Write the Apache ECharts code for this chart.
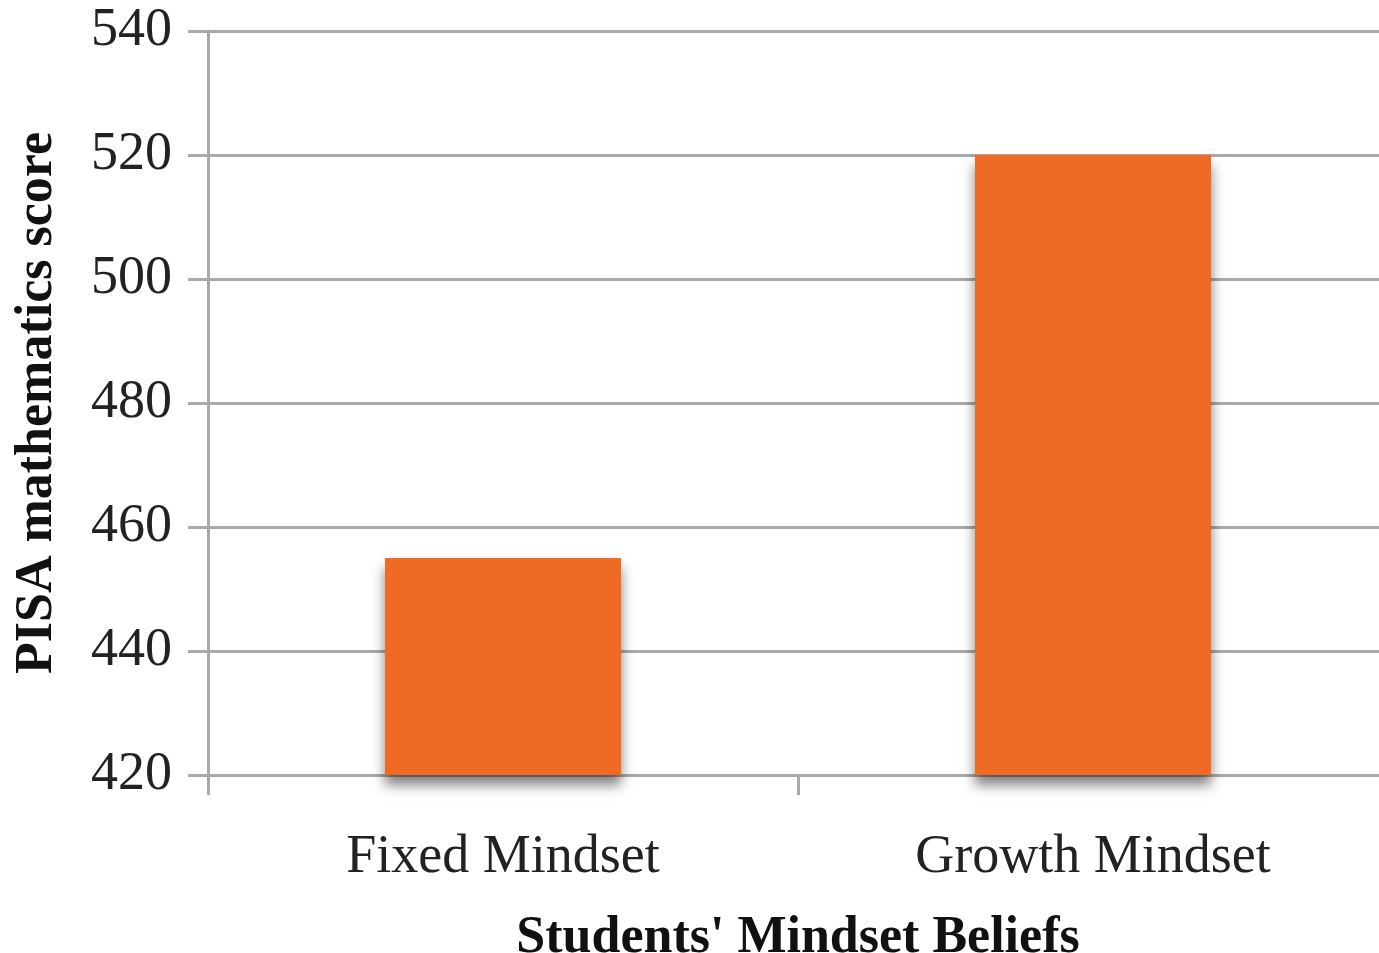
<!DOCTYPE html>
<html>
<head>
<meta charset="utf-8">
<script src="https://cdn.jsdelivr.net/npm/echarts@6/dist/echarts.min.js"></script>
<style>
html,body{margin:0;padding:0;background:#fff;}
#chart{width:1379px;height:953px;}
</style>
</head>
<body>
<div id="chart"></div>
<script>
const categories = ["Fixed Mindset", "Growth Mindset"];
const scores = [455, 520];
const yTicks = [420, 440, 460, 480, 500, 520, 540];

const chart = echarts.init(document.getElementById('chart'));
const font = '"Liberation Serif", "DejaVu Serif", serif';
const lineColor = '#a9a9a9';
chart.setOption({
  animation: false,
  backgroundColor: '#ffffff',
  grid: { left: 208, top: 31, bottom: 178, right: -9, containLabel: false, outerBoundsMode: 'none' },
  xAxis: {
    type: 'category',
    data: categories,
    name: "Students' Mindset Beliefs",
    nameLocation: 'middle',
    nameGap: 138,
    nameTextStyle: { fontFamily: font, fontWeight: 'bold', fontSize: 52, color: '#111' },
    axisLine: { show: true, lineStyle: { color: lineColor, width: 3 } },
    axisTick: { show: true, length: 20, lineStyle: { color: lineColor, width: 3 } },
    axisLabel: { fontFamily: font, fontSize: 54, color: '#222', margin: 56 },
    splitLine: { show: false }
  },
  yAxis: {
    type: 'value',
    min: yTicks[0],
    max: yTicks[yTicks.length - 1],
    interval: 20,
    name: 'PISA mathematics score',
    nameLocation: 'middle',
    nameGap: 144,
    nameRotate: 90,
    nameTextStyle: { fontFamily: font, fontWeight: 'bold', fontSize: 52, color: '#111' },
    axisLine: { show: true, lineStyle: { color: lineColor, width: 3 } },
    axisTick: { show: true, length: 20, lineStyle: { color: lineColor, width: 3 } },
    axisLabel: { fontFamily: font, fontSize: 54, color: '#222', margin: 36 },
    splitLine: { show: true, lineStyle: { color: lineColor, width: 3 } }
  },
  series: [{
    type: 'bar',
    data: scores,
    barWidth: '40%',
    itemStyle: {
      color: '#ef6a22',
      shadowColor: 'rgba(0,0,0,0.5)',
      shadowBlur: 12,
      shadowOffsetY: 10
    }
  }]
});
</script>
</body>
</html>
